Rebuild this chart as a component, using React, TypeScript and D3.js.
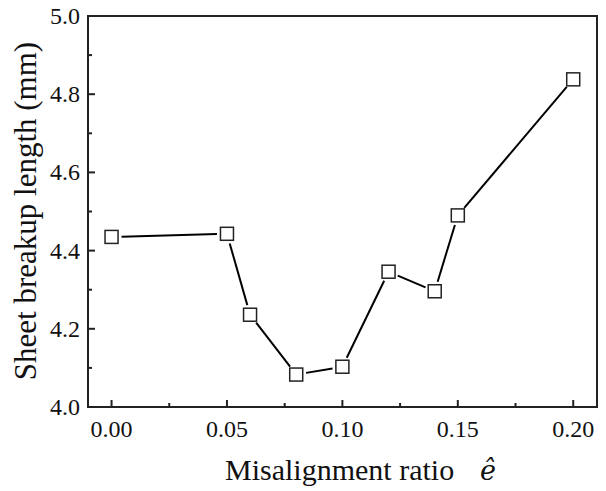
import React from "react";
import * as d3 from "d3";

const ratios = [0.0, 0.05, 0.06, 0.08, 0.1, 0.12, 0.14, 0.15, 0.2];
const lengths = [4.435, 4.443, 4.236, 4.083, 4.103, 4.346, 4.296, 4.49, 4.838];
const xMajor = [0, 0.05, 0.1, 0.15, 0.2];
const xMinor = [0.025, 0.075, 0.125, 0.175];
const yMajor = [4.0, 4.2, 4.4, 4.6, 4.8, 5.0];
const yMinor = [4.1, 4.3, 4.5, 4.7, 4.9];

export default function App() {
  const W = 606, H = 491;
  const L = 88, R = 597, T = 16, B = 407;
  const x = d3.scaleLinear().domain([-0.0102, 0.2103]).range([L, R]);
  const y = d3.scaleLinear().domain([4.0, 5.0]).range([B, T]);
  const pts = ratios.map((r, i) => [x(r), y(lengths[i])] as [number, number]);
  const gap = 10;
  const segs = pts.slice(1).map((p, i) => {
    const a = pts[i];
    const dx = p[0] - a[0], dy = p[1] - a[1];
    const len = Math.hypot(dx, dy);
    const ux = dx / len, uy = dy / len;
    return [a[0] + ux * gap, a[1] + uy * gap, p[0] - ux * gap, p[1] - uy * gap];
  });
  const font = "'Liberation Serif', 'Times New Roman', serif";
  const ms = 13;
  return (
    <svg width={W} height={H} style={{ position: "absolute", left: 0, top: 0, background: "#fff" }}>
      <rect x={0} y={0} width={W} height={H} fill="#fff" />
      {segs.map((s, i) => (
        <line key={i} x1={s[0]} y1={s[1]} x2={s[2]} y2={s[3]} stroke="#000" strokeWidth={2} />
      ))}
      {pts.map((p, i) => (
        <rect key={i} x={p[0] - ms / 2} y={p[1] - ms / 2} width={ms} height={ms} fill="#fff" stroke="#222" strokeWidth={1.5} />
      ))}
      <rect x={L} y={T} width={R - L} height={B - T} fill="none" stroke="#222" strokeWidth={2} />
      {xMajor.map((v) => (
        <g key={"xm" + v}>
          <line x1={x(v)} x2={x(v)} y1={B} y2={B - 7} stroke="#222" strokeWidth={2} />
          <text x={x(v)} y={437} textAnchor="middle" fontFamily={font} fontSize={24} fill="#111">{v.toFixed(2)}</text>
        </g>
      ))}
      {xMinor.map((v) => (
        <line key={"xn" + v} x1={x(v)} x2={x(v)} y1={B} y2={B - 4} stroke="#222" strokeWidth={2} />
      ))}
      {yMajor.map((v) => (
        <g key={"ym" + v}>
          <line x1={L} x2={L + 7} y1={y(v)} y2={y(v)} stroke="#222" strokeWidth={2} />
          <text x={80} y={y(v) + 8} textAnchor="end" fontFamily={font} fontSize={24} fill="#111">{v.toFixed(1)}</text>
        </g>
      ))}
      {yMinor.map((v) => (
        <line key={"yn" + v} x1={L} x2={L + 4} y1={y(v)} y2={y(v)} stroke="#222" strokeWidth={2} />
      ))}
      <text x={225} y={480} textAnchor="start" fontFamily={font} fontSize={30} fill="#111">
        Misalignment ratio
      </text>
      <text x={480} y={480} textAnchor="start" fontFamily="'DejaVu Serif', serif" fontStyle="italic" fontSize={27} fill="#111">ê</text>
      <text transform={`translate(36, 211) rotate(-90)`} textAnchor="middle" fontFamily={font} fontSize={31} fill="#111">
        Sheet breakup length (mm)
      </text>
    </svg>
  );
}
